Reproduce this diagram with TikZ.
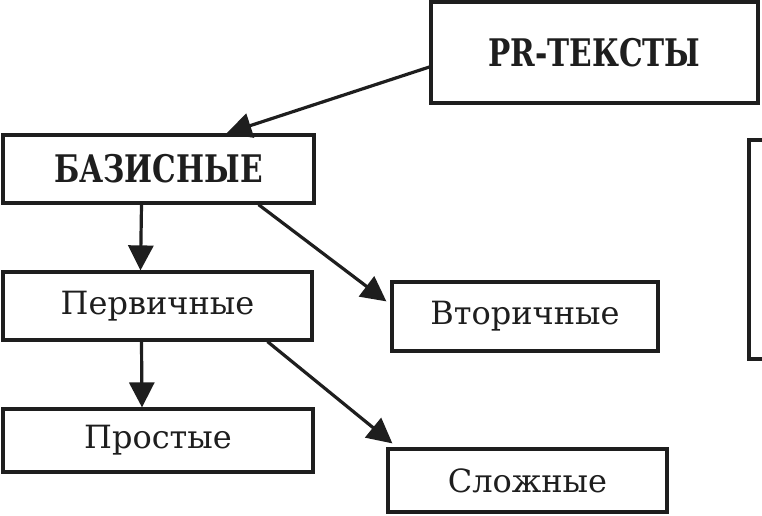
\documentclass[tikz,border=0pt]{standalone}
\usepackage{fontspec}
\setmainfont{DejaVu Serif}
\newfontfamily\headfont[FakeStretch=0.78]{DejaVu Serif}
\usetikzlibrary{arrows.meta}
\definecolor{ink}{RGB}{30,30,30}

\begin{document}
\begin{tikzpicture}[x=1pt,y=-1pt,
    box/.style={draw=ink,line width=3.2pt,inner sep=0pt,text=ink,
        font=\fontsize{32}{38}\selectfont},
    bbox/.style={box,font=\headfont\fontsize{38}{44}\selectfont\bfseries},
    arr/.style={draw=ink,line width=3.2pt,-{Triangle[length=25pt,width=25pt]}}]
    \useasboundingbox[fill=white] (0,0) rectangle (762,516);
    \node[bbox,minimum width=327pt,minimum height=101pt] (pr) at (594.5,52.5) {PR-ТЕКСТЫ};
    \node[bbox,minimum width=311pt,minimum height=68pt] (baz) at (158.5,169) {БАЗИСНЫЕ};
    \node[box,minimum width=309pt,minimum height=68pt] (perv) at (157.5,306) {Первичные};
    \node[box,minimum width=266pt,minimum height=69pt] (vtor) at (525,316.5) {Вторичные};
    \node[box,minimum width=310pt,minimum height=63pt] (prost) at (158,440.5) {Простые};
    \node[box,minimum width=279pt,minimum height=63pt] (slozh) at (527.5,480.5) {Сложные};
    % box cut off at the right edge
    \draw[draw=ink,line width=3.2pt] (765,140) -| (749,359) -- (765,359);
    \draw[arr] ([yshift=-14.5pt]pr.west) -- ([xshift=68pt]baz.north);
    \draw[arr] ([xshift=-17pt]baz.south) -- ([xshift=-17pt]perv.north);
    \draw[arr] ([xshift=100pt]baz.south) -- ([xshift=-4pt,yshift=-21pt]vtor.north west);
    \draw[arr] ([xshift=-16pt]perv.south) -- ([xshift=-16pt]prost.north);
    \draw[arr] ([xshift=110pt]perv.south) -- ([xshift=6pt,yshift=4pt]slozh.north west);
\end{tikzpicture}
\end{document}
